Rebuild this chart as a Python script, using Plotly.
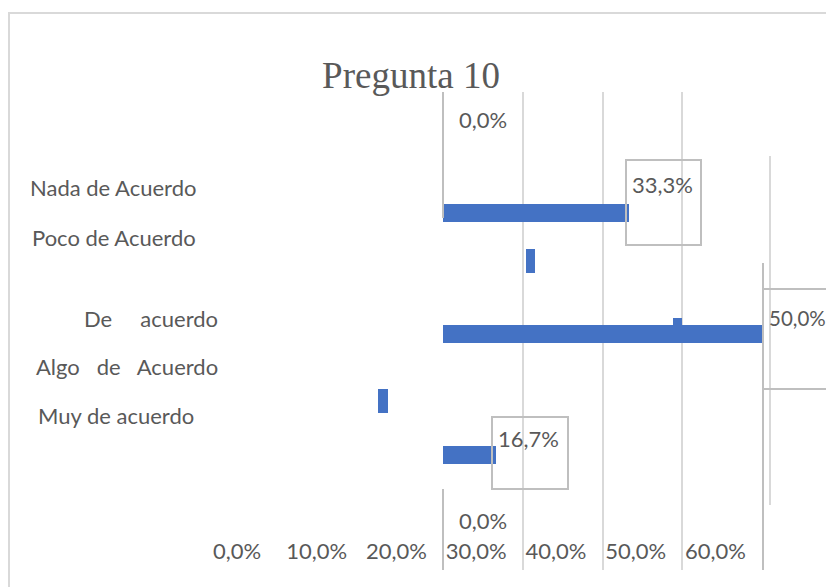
import plotly.graph_objects as go

# ---------------- data ----------------
categories = ["Nada de Acuerdo", "Poco de Acuerdo", "De acuerdo", "Algo de Acuerdo", "Muy de acuerdo"]
# values per bar row (top to bottom) as drawn in the chart
values = [0.0, 33.3, 50.0, 16.7, 0.0]
tick_vals = [0, 10, 20, 30, 40, 50, 60]
tick_labels = ["0,0%", "10,0%", "20,0%", "30,0%", "40,0%", "50,0%", "60,0%"]
grid_vals = [10, 20, 30, 40, 50]

W, H = 826, 587
def px(x):
    return x / W
def py(y):
    return 1 - y / H

def pct(v):
    return f"{v:.1f}%".replace(".", ",")

TXT = "#595959"
FONT = "Lato"
LIGHT = "#D9D9D9"
DARK = "#BFBFBF"
BLUE = "#4472C4"

fig = go.Figure()

fig.add_trace(go.Bar(
    x=values, y=list(range(len(values))), orientation="h",
    marker=dict(color=BLUE, line=dict(width=0)), width=0.145,
    hoverinfo="skip", showlegend=False, xaxis="x", yaxis="y",
))
# carrier for the shifted tick-label axis
fig.add_trace(go.Scatter(
    x=[tick_vals[0], tick_vals[-1]], y=[0, 0], mode="markers",
    marker=dict(opacity=0), hoverinfo="skip", showlegend=False,
    xaxis="x2", yaxis="y",
))

shapes = []
def line(x0, y0, x1, y1, color, w=2):
    shapes.append(dict(type="line", xref="paper", yref="paper",
                       x0=px(x0), y0=py(y0), x1=px(x1), y1=py(y1),
                       line=dict(color=color, width=w), layer="above"))
def rect(x0, y0, x1, y1, color, w=2):
    shapes.append(dict(type="rect", xref="paper", yref="paper",
                       x0=px(x0), y0=py(y0), x1=px(x1), y1=py(y1),
                       line=dict(color=color, width=w), fillcolor="rgba(0,0,0,0)", layer="above"))

# chart frame
rect(9, 13, 840, 600, LIGHT)
# darker segments of axis lines
line(443, 92, 443, 218, DARK)
line(443, 489, 443, 570, DARK)
line(763, 263, 763, 570, DARK)
line(770, 156, 770, 505, LIGHT)
# data label frames
rect(626, 160, 701, 245, DARK)
rect(492, 417, 568, 489, DARK)
rect(763, 289, 850, 389, DARK)
# stray rendering fragments
for (a, b, c, d) in [(526, 249, 535, 273), (673, 318, 682, 331), (378, 389, 388, 413)]:
    shapes.append(dict(type="rect", xref="paper", yref="paper",
                       x0=px(a), y0=py(b), x1=px(c), y1=py(d),
                       line=dict(width=0), fillcolor=BLUE, layer="above"))

ann = []
def text(t, x, y, xanchor="center", size=22):
    ann.append(dict(text=t, xref="paper", yref="paper", x=px(x), y=py(y),
                    xanchor=xanchor, yanchor="middle", showarrow=False,
                    font=dict(family=FONT, size=size, color=TXT)))

# category labels (spaced as in the reference)
label_text = [
    categories[0],
    categories[1],
    "De\u00a0\u00a0\u00a0\u00a0\u00a0acuerdo",
    "Algo\u00a0\u00a0\u00a0de\u00a0\u00a0\u00a0Acuerdo",
    categories[4],
]
label_pos = [(113, 187), (114, 237), (151, 318), (127, 366), (116, 415)]
for t, (x, y) in zip(label_text, label_pos):
    text(t, x, y)

# data labels
text(pct(values[0]), 483, 119)
text(pct(values[1]), 695, 184, xanchor="right")
text(pct(values[2]), 767, 318, xanchor="left", size=20.5)
text(pct(values[3]), 561, 438, xanchor="right")
text(pct(values[4]), 483, 520)

fig.update_layout(
    width=W, height=H,
    margin=dict(l=0, r=0, t=0, b=0),
    paper_bgcolor="white", plot_bgcolor="rgba(0,0,0,0)",
    title=dict(text="Pregunta 10", x=px(411), y=py(75), xanchor="center", yanchor="middle",
               xref="paper", yref="paper",
               font=dict(family="Liberation Serif", size=37, color=TXT)),
    xaxis=dict(domain=[px(443), px(762)], range=[10, 50], tickvals=grid_vals,
               showticklabels=False, showgrid=True, gridcolor=LIGHT, gridwidth=2,
               zeroline=False, showline=False, ticks="", anchor="y", fixedrange=True),
    xaxis2=dict(domain=[0, 1], range=[-237 / 7.975, (W - 237) / 7.975],
                tickvals=tick_vals, ticktext=tick_labels, showgrid=False, zeroline=False,
                showline=False, ticks="", anchor="free", position=py(536), side="bottom",
                tickfont=dict(family=FONT, size=22, color=TXT), fixedrange=True),
    yaxis=dict(domain=[py(570), py(92)], range=[3.95, 0], showticklabels=False,
               showgrid=False, zeroline=False, showline=False, ticks="", fixedrange=True),
    shapes=shapes, annotations=ann,
    bargap=0,
)

fig.write_html("out.html")
